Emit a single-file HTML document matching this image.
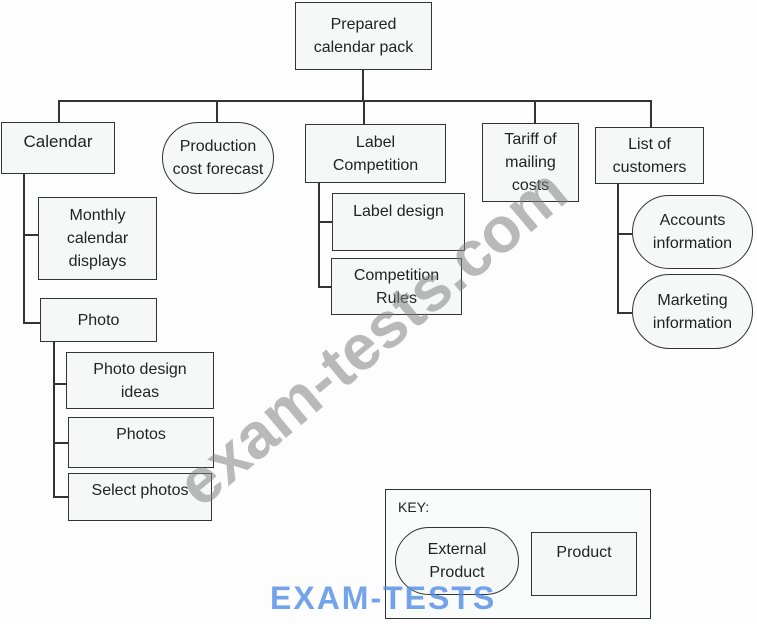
<!DOCTYPE html>
<html><head><meta charset="utf-8"><style>
body{margin:0;background:#fdfdfd;width:757px;height:624px;position:relative;overflow:hidden;font-family:"Liberation Sans",Arial,sans-serif;color:#222}
.b{position:absolute;border:1.5px solid #333;background:#f6f8f8;box-sizing:border-box;text-align:center;font-size:16px;line-height:23px;display:flex;flex-direction:column;align-items:center}
.c{justify-content:center}
.r{border-radius:40px;justify-content:center}
.l{position:absolute;background:#333}
</style></head><body>
<div class="l" style="left:362px;top:69px;width:1.5px;height:32px"></div>
<div class="l" style="left:58px;top:100px;width:593px;height:1.5px"></div>
<div class="l" style="left:58px;top:100px;width:1.5px;height:23px"></div>
<div class="l" style="left:216px;top:100px;width:1.5px;height:23px"></div>
<div class="l" style="left:363px;top:100px;width:1.5px;height:25px"></div>
<div class="l" style="left:534px;top:100px;width:1.5px;height:24px"></div>
<div class="l" style="left:650px;top:100px;width:1.5px;height:28px"></div>
<div class="l" style="left:23px;top:173px;width:1.5px;height:150px"></div>
<div class="l" style="left:23px;top:234px;width:16px;height:1.5px"></div>
<div class="l" style="left:23px;top:322px;width:17px;height:1.5px"></div>
<div class="l" style="left:53px;top:341px;width:1.5px;height:156px"></div>
<div class="l" style="left:53px;top:383px;width:14px;height:1.5px"></div>
<div class="l" style="left:53px;top:442px;width:15px;height:1.5px"></div>
<div class="l" style="left:53px;top:496px;width:15px;height:1.5px"></div>
<div class="l" style="left:318px;top:182px;width:1.5px;height:105px"></div>
<div class="l" style="left:318px;top:221px;width:14px;height:1.5px"></div>
<div class="l" style="left:318px;top:286px;width:13px;height:1.5px"></div>
<div class="l" style="left:617px;top:183px;width:1.5px;height:130px"></div>
<div class="l" style="left:617px;top:233px;width:15px;height:1.5px"></div>
<div class="l" style="left:617px;top:312px;width:15px;height:1.5px"></div>

<div class="b c" style="left:295px;top:2px;width:137px;height:68px">Prepared<br>calendar pack</div>
<div class="b" style="left:1px;top:122px;width:114px;height:52px;padding-top:7px;font-size:17px">Calendar</div>
<div class="b r" style="left:162px;top:122px;width:112px;height:72px">Production<br>cost forecast</div>
<div class="b c" style="left:305px;top:124px;width:141px;height:59px">Label<br>Competition</div>
<div class="b" style="left:482px;top:123px;width:97px;height:79px;padding-top:4px;line-height:23px">Tariff of<br>mailing<br>costs</div>
<div class="b c" style="left:595px;top:127px;width:109px;height:57px">List of<br>customers</div>
<div class="b c" style="left:38px;top:197px;width:119px;height:83px">Monthly<br>calendar<br>displays</div>
<div class="b c" style="left:40px;top:298px;width:117px;height:44px">Photo</div>
<div class="b c" style="left:66px;top:352px;width:148px;height:57px">Photo design<br>ideas</div>
<div class="b" style="left:68px;top:417px;width:146px;height:51px;padding-top:5px">Photos</div>
<div class="b" style="left:68px;top:473px;width:144px;height:48px;padding-top:5px">Select photos</div>
<div class="b" style="left:332px;top:193px;width:133px;height:58px;padding-top:6px">Label design</div>
<div class="b c" style="left:331px;top:258px;width:131px;height:57px">Competition<br>Rules</div>
<div class="b r" style="left:632px;top:195px;width:121px;height:74px">Accounts<br>information</div>
<div class="b r" style="left:632px;top:274px;width:121px;height:75px">Marketing<br>information</div>

<div class="b" style="left:385px;top:489px;width:266px;height:130px;background:#fafbfb;align-items:flex-start;padding:6px 0 0 12px;font-size:14px">KEY:</div>
<div class="b r" style="left:395px;top:527px;width:124px;height:68px">External<br>Product</div>
<div class="b" style="left:531px;top:532px;width:106px;height:64px;padding-top:8px">Product</div>

<div style="position:absolute;left:130px;top:300px;transform:rotate(-40deg);font-size:64px;font-weight:bold;color:rgba(130,130,130,.55);white-space:nowrap">exam-tests.com</div>
<div style="position:absolute;left:270px;top:580px;font-size:32px;font-weight:bold;color:rgba(80,140,230,.8);letter-spacing:2px">EXAM-TESTS</div>
</body></html>
